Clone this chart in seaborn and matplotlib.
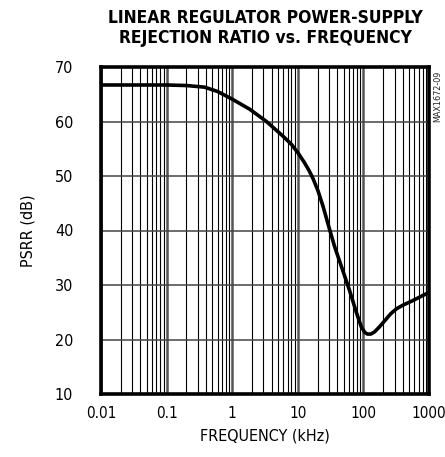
import matplotlib
matplotlib.use("Agg")
import matplotlib.pyplot as plt
import matplotlib.ticker as mticker
import seaborn as sns
import pandas as pd

freq_khz = [0.01, 0.03, 0.1, 0.2, 0.38, 0.6, 1.0, 1.85, 3.33, 5.96, 8, 10, 12.7, 15, 17.1, 20.3, 24.3,
            30.5, 36.5, 40.8, 48.7, 61.5, 78, 93, 105, 115, 130, 148, 175, 210, 260, 316, 400,
            535, 700, 910, 1000]
psrr_db = [66.7, 66.7, 66.7, 66.6, 66.3, 65.5, 64.1, 62.25, 60.0, 57.3, 55.8, 54.3, 52.4, 50.9, 49.5, 47.3, 44.4,
           40.2, 37.0, 35.3, 32.6, 29.0, 25.0, 22.3, 21.3, 21.0, 21.0, 21.4, 22.3, 23.4, 24.7, 25.6, 26.3,
           27.0, 27.7, 28.4, 28.6]

x_ticks = [0.01, 0.1, 1, 10, 100, 1000]
x_tick_labels = ["0.01", "0.1", "1", "10", "100", "1000"]
y_ticks = [10, 20, 30, 40, 50, 60, 70]

title_text = "LINEAR REGULATOR POWER-SUPPLY\nREJECTION RATIO vs. FREQUENCY"
x_label = "FREQUENCY (kHz)"
y_label = "PSRR (dB)"
side_note = "MAX1672-09"

sns.set_style("white")
plt.rcParams["font.family"] = ["DejaVu Sans"]
plt.rcParams["font.stretch"] = "condensed"
plt.rcParams["text.color"] = "black"
plt.rcParams["axes.labelcolor"] = "black"
plt.rcParams["xtick.color"] = "black"
plt.rcParams["ytick.color"] = "black"

fig = plt.figure(figsize=(4.45, 4.57), dpi=100)
ax = fig.add_axes([101 / 445, 1 - 394 / 457, 328 / 445, 327 / 457])

df = pd.DataFrame({"f": freq_khz, "p": psrr_db})
sns.lineplot(data=df, x="f", y="p", ax=ax, color="black", lw=2.6, zorder=5)

ax.set_xscale("log")
ax.set_xlim(0.01, 1000)
ax.set_ylim(10, 70)
ax.set_xticks(x_ticks)
ax.set_xticklabels(x_tick_labels)
ax.set_yticks(y_ticks)
ax.xaxis.set_minor_locator(mticker.LogLocator(base=10, subs=range(2, 10), numticks=20))
ax.xaxis.set_minor_formatter(mticker.NullFormatter())

ax.grid(which="major", axis="x", color="#555555", lw=1.8, zorder=1)
ax.grid(which="minor", axis="x", color="black", lw=0.8, zorder=1)
ax.grid(which="major", axis="y", color="#444444", lw=1.1, zorder=1)

ax.tick_params(which="both", length=0, labelsize=11.5, labelcolor="black")
ax.tick_params(axis="x", labelsize=11, pad=9)
ax.tick_params(axis="y", pad=20)

for s in ax.spines.values():
    s.set_visible(True)
    s.set_color("black")
    s.set_linewidth(2.6)
    s.set_zorder(6)

ax.set_xlabel(x_label, fontsize=11.5, labelpad=5, color="black")
ax.set_ylabel(y_label, fontsize=11.5, labelpad=14, color="black")

fig.text(265 / 445, 1 - 28 / 457, title_text, ha="center", va="center",
         fontsize=12.5, fontweight="bold", linespacing=1.1, color="black")
fig.text(438 / 445, 1 - 96 / 457, side_note, ha="center", va="center",
         rotation=90, fontsize=6.5, color="#222222")

fig.savefig("out.png", dpi=100)
